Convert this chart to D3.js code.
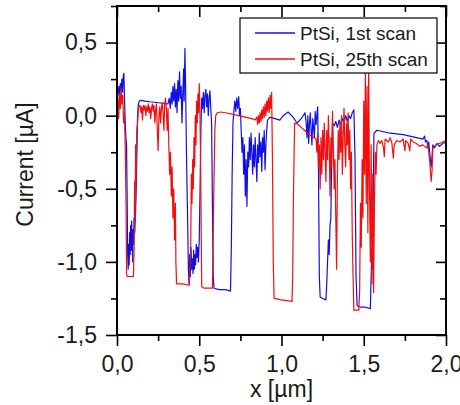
<!DOCTYPE html>
<html>
<head>
<meta charset="utf-8">
<script src="https://cdn.jsdelivr.net/npm/d3@7"></script>
<style>
  body { margin: 0; background: #fff; }
  svg text { font-family: "Liberation Sans", Arial, sans-serif; fill: #1a1a1a; }
  .axis path { display: none; }
  .axis line { stroke: #000; stroke-width: 1.6; }
  .trace { fill: none; stroke-width: 1.2; stroke-linejoin: round; }
</style>
</head>
<body>
<svg id="chart"></svg>
<script>
// x [um], current [uA]
const scan1 = [
  [0.000, 0.10], [0.006, 0.15], [0.012, 0.20], [0.016, 0.12], [0.020, 0.22], [0.025, 0.17],
  [0.030, 0.25], [0.034, 0.16], [0.038, 0.27], [0.042, 0.29], [0.046, 0.10], [0.050, -0.05],
  [0.054, -0.15], [0.058, -0.20], [0.062, -0.60], [0.065, -0.95], [0.068, -1.05], [0.071, -0.88],
  [0.074, -1.02], [0.077, -0.80], [0.080, -0.95], [0.083, -0.75], [0.086, -0.92], [0.089, -0.72],
  [0.092, -0.85], [0.095, -1.00], [0.098, -0.78], [0.101, -0.88], [0.104, -0.70], [0.108, -0.80],
  [0.112, -0.68], [0.116, -0.55], [0.120, -0.30], [0.125, 0.00], [0.130, 0.08], [0.136, 0.10],
  [0.145, 0.105], [0.170, 0.10], [0.200, 0.095], [0.240, 0.09], [0.280, 0.085], [0.310, 0.08],
  [0.318, 0.12], [0.324, 0.05], [0.330, 0.16], [0.335, 0.08], [0.340, 0.20], [0.345, 0.10],
  [0.350, 0.22], [0.355, 0.06], [0.360, 0.18], [0.365, 0.02], [0.370, 0.24], [0.375, 0.10],
  [0.380, 0.30], [0.385, 0.12], [0.390, 0.20], [0.395, -0.05], [0.400, 0.15], [0.405, 0.32],
  [0.408, 0.10], [0.413, 0.46], [0.417, 0.20], [0.421, -0.15], [0.425, -0.45], [0.430, -0.75],
  [0.434, -1.05], [0.438, -1.15], [0.442, -0.95], [0.446, -1.10], [0.450, -0.90], [0.454, -1.05],
  [0.458, -0.98], [0.462, -1.08], [0.466, -0.92], [0.470, -1.05], [0.474, -0.95], [0.478, -1.02],
  [0.482, -0.88], [0.486, -0.97], [0.490, -0.90], [0.495, -1.00], [0.500, -0.85], [0.505, -0.50],
  [0.510, -0.10], [0.515, 0.12], [0.520, 0.05], [0.525, 0.16], [0.530, 0.02], [0.535, 0.14],
  [0.540, 0.18], [0.545, 0.06], [0.550, 0.15], [0.555, 0.00], [0.560, 0.12], [0.565, 0.17],
  [0.570, 0.05], [0.575, -0.05], [0.580, -0.60], [0.585, -1.10], [0.590, -1.18], [0.620, -1.19],
  [0.660, -1.19], [0.690, -1.20], [0.695, -0.90], [0.700, -0.40], [0.705, -0.05], [0.710, 0.02],
  [0.716, 0.10], [0.722, 0.03], [0.728, 0.12], [0.734, 0.05], [0.740, 0.13], [0.745, 0.00],
  [0.750, 0.05], [0.755, -0.10], [0.760, -0.25], [0.765, -0.15], [0.770, -0.40], [0.775, -0.20],
  [0.780, -0.55], [0.785, -0.30], [0.790, -0.62], [0.795, -0.25], [0.800, -0.35], [0.805, -0.15],
  [0.810, -0.30], [0.815, -0.12], [0.820, -0.25], [0.825, -0.40], [0.830, -0.20], [0.835, -0.35],
  [0.840, -0.15], [0.845, -0.30], [0.850, -0.45], [0.855, -0.20], [0.860, -0.32], [0.865, -0.12],
  [0.870, -0.28], [0.875, -0.18], [0.880, -0.38], [0.885, -0.15], [0.890, -0.25], [0.895, -0.10],
  [0.900, -0.37], [0.905, -0.20], [0.910, -0.10], [0.915, -0.03], [0.930, -0.01], [0.960, -0.02],
  [0.990, -0.03], [1.010, 0.00], [1.040, 0.025], [1.070, -0.01], [1.094, -0.05], [1.120, -0.02],
  [1.143, 0.02], [1.150, -0.05], [1.155, -0.15], [1.160, 0.00], [1.165, -0.19], [1.170, -0.05],
  [1.175, 0.02], [1.180, -0.10], [1.185, -0.20], [1.190, -0.02], [1.195, -0.08], [1.200, -0.15],
  [1.205, 0.03], [1.210, -0.06], [1.215, 0.00], [1.220, 0.06], [1.225, -0.40], [1.230, -1.10],
  [1.235, -1.24], [1.250, -1.25], [1.270, -1.26], [1.275, -1.15], [1.280, -1.00], [1.285, -0.85],
  [1.290, -0.95], [1.295, -0.75], [1.300, -0.70], [1.305, -0.30], [1.310, -0.05], [1.320, -0.07],
  [1.330, -0.04], [1.340, -0.08], [1.350, -0.03], [1.360, -0.06], [1.370, -0.02], [1.380, -0.05],
  [1.390, 0.00], [1.400, -0.04], [1.410, 0.00], [1.420, -0.02], [1.430, 0.02], [1.440, 0.04],
  [1.447, -0.30], [1.453, -1.10], [1.460, -1.30], [1.480, -1.31], [1.510, -1.31], [1.540, -1.32],
  [1.545, -1.10], [1.550, -0.90], [1.553, -1.05], [1.556, -0.70], [1.559, -0.40], [1.562, -0.12],
  [1.580, -0.10], [1.620, -0.11], [1.660, -0.12], [1.700, -0.125], [1.740, -0.13], [1.780, -0.14],
  [1.820, -0.15], [1.860, -0.16], [1.870, -0.14], [1.875, -0.18], [1.884, -0.17], [1.890, -0.22],
  [1.895, -0.18], [1.903, -0.28], [1.910, -0.35], [1.915, -0.28], [1.920, -0.20], [1.930, -0.22],
  [1.945, -0.19], [1.960, -0.21], [1.980, -0.19], [2.000, -0.18]
];

const scan25 = [
  [0.000, 0.05], [0.005, 0.12], [0.010, -0.02], [0.015, 0.15], [0.020, 0.05], [0.025, 0.19],
  [0.030, 0.08], [0.035, 0.14], [0.040, -0.05], [0.045, 0.02], [0.050, -0.20], [0.055, -0.60],
  [0.058, -1.08], [0.062, -1.10], [0.080, -1.10], [0.100, -1.10], [0.104, -0.90], [0.107, -0.45],
  [0.110, -0.70], [0.113, -0.20], [0.116, -0.45], [0.120, -0.10], [0.125, -0.05], [0.130, 0.05],
  [0.136, 0.07], [0.140, 0.07], [0.146, 0.02], [0.150, 0.06], [0.155, -0.03], [0.160, 0.07],
  [0.165, 0.04], [0.170, 0.07], [0.175, 0.00], [0.180, 0.06], [0.185, 0.03], [0.190, 0.08],
  [0.195, 0.02], [0.200, 0.06], [0.205, -0.02], [0.210, 0.05], [0.215, 0.08], [0.220, 0.03],
  [0.225, 0.07], [0.230, -0.05], [0.235, 0.04], [0.240, 0.08], [0.245, -0.10], [0.250, -0.24],
  [0.255, 0.00], [0.260, 0.06], [0.265, -0.05], [0.270, 0.05], [0.275, 0.09], [0.280, 0.02],
  [0.285, -0.10], [0.290, 0.08], [0.295, 0.12], [0.300, 0.05], [0.305, -0.10], [0.310, 0.05],
  [0.315, -0.20], [0.320, -0.40], [0.325, -0.25], [0.330, -0.55], [0.335, -0.35], [0.340, -0.70],
  [0.345, -0.50], [0.350, -0.85], [0.355, -0.60], [0.358, -1.00], [0.362, -1.15], [0.400, -1.15],
  [0.440, -1.16], [0.448, -0.90], [0.452, -0.40], [0.456, -0.60], [0.460, -0.30], [0.464, -0.50],
  [0.468, -0.15], [0.472, -0.35], [0.476, 0.00], [0.480, -0.20], [0.484, 0.10], [0.488, -0.05],
  [0.492, 0.15], [0.496, 0.02], [0.500, 0.22], [0.504, 0.05], [0.508, -0.30], [0.512, -0.80],
  [0.515, -1.17], [0.530, -1.18], [0.560, -1.18], [0.580, -1.18], [0.585, -0.80], [0.590, -0.40],
  [0.595, -0.10], [0.600, 0.00], [0.610, 0.02], [0.630, 0.025], [0.660, 0.02], [0.700, 0.01],
  [0.740, 0.00], [0.780, -0.01], [0.820, -0.02], [0.840, -0.03], [0.850, -0.01], [0.855, -0.06],
  [0.860, 0.00], [0.865, -0.05], [0.870, 0.02], [0.875, -0.04], [0.880, 0.04], [0.885, -0.02],
  [0.890, 0.06], [0.895, -0.01], [0.900, 0.08], [0.905, 0.00], [0.910, 0.10], [0.915, 0.03],
  [0.920, 0.12], [0.925, 0.02], [0.930, 0.14], [0.935, 0.05], [0.940, 0.16], [0.945, -0.30],
  [0.950, -1.00], [0.955, -1.25], [1.000, -1.26], [1.064, -1.27], [1.068, -1.10], [1.072, -0.60],
  [1.076, -0.30], [1.080, -0.05], [1.100, -0.06], [1.120, -0.08], [1.140, -0.10], [1.160, -0.12],
  [1.180, -0.14], [1.200, -0.15], [1.210, -0.16], [1.215, -0.25], [1.220, -0.12], [1.225, -0.35],
  [1.230, -0.20], [1.235, -0.50], [1.240, -0.15], [1.245, -0.40], [1.250, -0.10], [1.255, -0.30],
  [1.260, -0.05], [1.265, -0.25], [1.270, -0.45], [1.275, -0.10], [1.280, -0.30], [1.285, 0.00],
  [1.290, -0.20], [1.295, -0.55], [1.300, -0.15], [1.305, -0.35], [1.310, 0.03], [1.315, -0.20],
  [1.320, -0.50], [1.325, -0.30], [1.330, -0.70], [1.335, -1.05], [1.340, -0.40], [1.345, -0.10],
  [1.350, -0.30], [1.355, -0.05], [1.360, -0.25], [1.365, 0.00], [1.370, -0.40], [1.375, -0.15],
  [1.380, 0.05], [1.385, -0.20], [1.390, -0.35], [1.395, -0.05], [1.400, -0.20], [1.405, 0.02],
  [1.410, -0.30], [1.415, -0.10], [1.420, -0.50], [1.425, -0.25], [1.430, -0.80], [1.435, -1.10],
  [1.440, -1.33], [1.470, -1.33], [1.475, -1.20], [1.480, -0.60], [1.485, -0.90], [1.490, -0.30],
  [1.495, -0.70], [1.500, 0.10], [1.505, -0.40], [1.510, 0.30], [1.515, -0.60], [1.520, 0.20],
  [1.525, -0.80], [1.530, 0.35], [1.535, -0.50], [1.540, -1.00], [1.545, -0.20], [1.550, -1.15],
  [1.555, -0.40], [1.560, -1.21], [1.565, -0.60], [1.570, -0.25], [1.575, -0.40], [1.580, -0.20],
  [1.590, -0.17], [1.600, -0.19], [1.610, -0.17], [1.620, -0.22], [1.625, -0.28], [1.630, -0.16],
  [1.650, -0.18], [1.660, -0.15], [1.670, -0.18], [1.680, -0.29], [1.685, -0.20], [1.700, -0.17],
  [1.720, -0.18], [1.740, -0.16], [1.750, -0.24], [1.755, -0.17], [1.770, -0.19], [1.780, -0.24],
  [1.785, -0.16], [1.800, -0.18], [1.820, -0.19], [1.840, -0.21], [1.860, -0.20], [1.880, -0.22],
  [1.890, -0.20], [1.900, -0.30], [1.910, -0.45], [1.915, -0.38], [1.920, -0.22], [1.940, -0.20],
  [1.960, -0.19], [1.980, -0.18], [2.000, -0.17]
];

const seriesNames = ['PtSi, 1st scan', 'PtSi, 25th scan'];
const seriesColors = ['#1010e6', '#f01010'];

const xMajor = [0, 0.5, 1.0, 1.5, 2.0];
const xMinor = [0.25, 0.75, 1.25, 1.75];
const yMajor = [-1.5, -1.0, -0.5, 0.0, 0.5];
const yMinor = [-1.25, -0.75, -0.25, 0.25, 0.75];

class LineChart {

  constructor(_config, _series) {
    this.config = {
      parentElement: _config.parentElement,
      containerWidth: _config.containerWidth || 460,
      containerHeight: _config.containerHeight || 405,
      margin: _config.margin || {top: 6, right: 14, bottom: 70, left: 117}
    };
    this.series = _series;
    this.initVis();
  }

  initVis() {
    let vis = this;

    vis.width = vis.config.containerWidth - vis.config.margin.left - vis.config.margin.right;
    vis.height = vis.config.containerHeight - vis.config.margin.top - vis.config.margin.bottom;

    vis.xScale = d3.scaleLinear().domain([0, 2]).range([0, vis.width]);
    vis.yScale = d3.scaleLinear().domain([-1.5, 0.75]).range([vis.height, 0]);

    vis.svg = d3.select(vis.config.parentElement)
        .attr('width', vis.config.containerWidth)
        .attr('height', vis.config.containerHeight);

    vis.chart = vis.svg.append('g')
        .attr('transform', `translate(${vis.config.margin.left},${vis.config.margin.top})`);

    vis.chart.append('clipPath').attr('id', 'plot-clip')
      .append('rect')
        .attr('width', vis.width)
        .attr('height', vis.height);

    vis.lineG = vis.chart.append('g').attr('clip-path', 'url(#plot-clip)');
    vis.axisG = vis.chart.append('g');

    // axis titles
    vis.chart.append('text')
        .attr('text-anchor', 'middle')
        .attr('x', vis.width / 2)
        .attr('y', vis.height + 62)
        .style('font-size', '23px')
        .text('x [µm]');

    vis.chart.append('text')
        .attr('text-anchor', 'middle')
        .attr('transform', `translate(${33 - vis.config.margin.left},${vis.height / 2 - 6}) rotate(-90)`)
        .style('font-size', '23px')
        .text('Current [µA]');
  }

  renderVis() {
    let vis = this;
    const fmt = v => v.toFixed(1).replace('.', ',');

    const line = d3.line()
        .x(d => vis.xScale(d[0]))
        .y(d => vis.yScale(d[1]));

    vis.lineG.selectAll('.trace')
        .data(vis.series)
      .join('path')
        .attr('class', 'trace')
        .attr('stroke', (d, i) => seriesColors[i])
        .attr('d', d => line(d));

    // bottom, with outward ticks and labels
    vis.axisG.append('g').attr('class', 'axis')
        .attr('transform', `translate(0,${vis.height})`)
        .call(d3.axisBottom(vis.xScale).tickValues(xMajor).tickSize(11).tickPadding(10).tickFormat(fmt))
        .selectAll('text').style('font-size', '23px');
    vis.axisG.append('g').attr('class', 'axis')
        .attr('transform', `translate(0,${vis.height})`)
        .call(d3.axisBottom(vis.xScale).tickValues(xMinor).tickSize(6).tickFormat(''));

    // left
    vis.axisG.append('g').attr('class', 'axis')
        .call(d3.axisLeft(vis.yScale).tickValues(yMajor).tickSize(11).tickPadding(9).tickFormat(fmt))
        .selectAll('text').style('font-size', '23px');
    vis.axisG.append('g').attr('class', 'axis')
        .call(d3.axisLeft(vis.yScale).tickValues(yMinor).tickSize(6).tickFormat(''));

    // top and right mirror ticks point inward
    vis.axisG.append('g').attr('class', 'axis')
        .call(d3.axisTop(vis.xScale).tickValues(xMajor).tickSize(-11).tickFormat(''));
    vis.axisG.append('g').attr('class', 'axis')
        .call(d3.axisTop(vis.xScale).tickValues(xMinor).tickSize(-6).tickFormat(''));
    vis.axisG.append('g').attr('class', 'axis')
        .attr('transform', `translate(${vis.width},0)`)
        .call(d3.axisRight(vis.yScale).tickValues(yMajor).tickSize(-10).tickFormat(''));
    vis.axisG.append('g').attr('class', 'axis')
        .attr('transform', `translate(${vis.width},0)`)
        .call(d3.axisRight(vis.yScale).tickValues(yMinor).tickSize(-6).tickFormat(''));

    vis.axisG.append('rect')
        .attr('width', vis.width)
        .attr('height', vis.height)
        .attr('fill', 'none')
        .attr('stroke', '#000')
        .attr('stroke-width', 2);

    // legend
    const legend = vis.chart.append('g').attr('transform', 'translate(123,12)');
    legend.append('rect')
        .attr('width', 197)
        .attr('height', 55)
        .attr('fill', '#fff')
        .attr('stroke', '#000')
        .attr('stroke-width', 1.2);
    const item = legend.selectAll('.item')
        .data(seriesNames)
      .join('g')
        .attr('class', 'item')
        .attr('transform', (d, i) => `translate(0,${15 + i * 26})`);
    item.append('line')
        .attr('x1', 15).attr('x2', 55)
        .attr('stroke', (d, i) => seriesColors[i])
        .attr('stroke-width', 1.4);
    item.append('text')
        .attr('x', 60)
        .attr('dy', '0.35em')
        .style('font-size', '19px')
        .text(d => d);
  }
}

const chart = new LineChart({parentElement: '#chart'}, [scan1, scan25]);
chart.renderVis();
</script>
</body>
</html>
